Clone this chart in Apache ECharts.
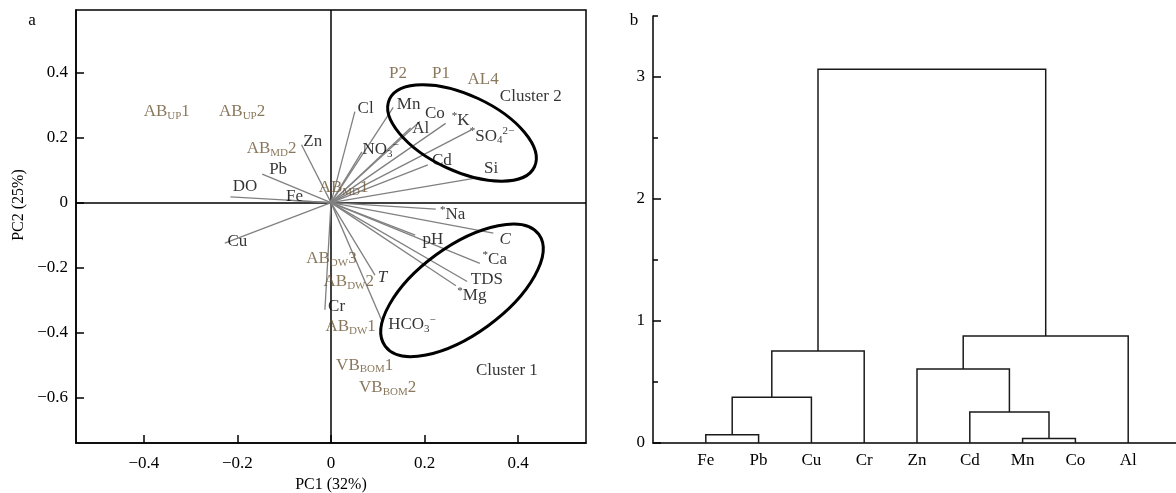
<!DOCTYPE html>
<html><head><meta charset="utf-8">
<script src="https://cdn.jsdelivr.net/npm/echarts@6/dist/echarts.min.js"></script>
<style>html,body{margin:0;padding:0;background:#fff}#c{width:1176px;height:493px}</style>
</head><body><div id="c"></div>
<script>
// ===== Panel a: PCA biplot =====
// loading vectors (tips) for variables
const varNames = ['DO','Pb','Zn','Fe','Cu','Cr','Cl','Mn','Co','Al','K','SO4','NO3','Cd','Si','Na','C','pH','Ca','TDS','Mg','T','HCO3'];
const varPC1 = [-0.215,-0.147,-0.063,-0.095,-0.227,-0.013,0.051,0.133,0.19,0.17,0.245,0.30,0.066,0.207,0.318,0.224,0.347,0.18,0.318,0.291,0.267,0.094,0.111];
const varPC2 = [0.018,0.088,0.178,0.008,-0.125,-0.33,0.28,0.293,0.25,0.23,0.244,0.224,0.156,0.116,0.078,-0.02,-0.094,-0.10,-0.187,-0.243,-0.256,-0.223,-0.371];
// label anchors of the variables
const varLabPC1 = [-0.184,-0.113,-0.039,-0.078,-0.2,0.012,0.074,0.166,0.222,0.192,0.277,0.344,0.106,0.237,0.342,0.26,0.372,0.218,0.35,0.333,0.301,0.11,0.173];
const varLabPC2 = [0.049,0.103,0.188,0.018,-0.12,-0.32,0.29,0.303,0.275,0.227,0.254,0.205,0.162,0.131,0.106,-0.038,-0.113,-0.115,-0.174,-0.236,-0.287,-0.23,-0.376];
const varText = {DO:'DO',Pb:'Pb',Zn:'Zn',Fe:'Fe',Cu:'Cu',Cr:'Cr',Cl:'Cl',Mn:'Mn',Co:'Co',Al:'Al',
  K:'{p|*}K',SO4:'{p|*}SO{s|4}{p|2−}',NO3:'NO{s|3}{p|−}',Cd:'Cd',Si:'Si',Na:'{p|*}Na',C:'{i|C}',pH:'pH',
  Ca:'{p|*}Ca',TDS:'TDS',Mg:'{p|*}Mg',T:'{i|T}',HCO3:'HCO{s|3}{p|−}'};
// sample scores
const sampleNames = ['AB_UP1','AB_UP2','AB_MD2','AB_MD1','P2','P1','AL4','AB_DW3','AB_DW2','AB_DW1','VB_BOM1','VB_BOM2'];
const samplePC1 = [-0.351,-0.19,-0.127,0.027,0.143,0.235,0.325,0.001,0.038,0.042,0.072,0.121];
const samplePC2 = [0.28,0.28,0.167,0.045,0.398,0.398,0.38,-0.171,-0.243,-0.381,-0.5,-0.568];
const sampleText = {AB_UP1:'AB{s|UP}1',AB_UP2:'AB{s|UP}2',AB_MD2:'AB{s|MD}2',AB_MD1:'AB{s|MD}1',P2:'P2',P1:'P1',AL4:'AL4',
  AB_DW3:'AB{s|DW}3',AB_DW2:'AB{s|DW}2',AB_DW1:'AB{s|DW}1',VB_BOM1:'VB{s|BOM}1',VB_BOM2:'VB{s|BOM}2'};
// clusters
const clusterNames = ['Cluster 2','Cluster 1'];
const clusterLabPC1 = [0.427,0.376];
const clusterLabPC2 = [0.328,-0.517];
const clusterCenterPC1 = [0.28,0.28];
const clusterCenterPC2 = [0.2145,-0.27];
const xTicksA = [-0.4,-0.2,0,0.2,0.4];
const yTicksA = [-0.6,-0.4,-0.2,0,0.2,0.4];

// ===== Panel b: dendrogram =====
const leaves = ['Fe','Pb','Cu','Cr','Zn','Cd','Mn','Co','Al'];
const mergeA = [0,6,5,9,4,12,13,14];
const mergeB = [1,7,10,2,11,3,8,15];
const mergeHeight = [0.068,0.036,0.254,0.374,0.607,0.754,0.877,3.063];
const yTicksB = [0,1,2,3];
const yMinorB = [0.5,1.5,2.5,3.5];

// ---- styles ----
const FONT = '"Liberation Serif","Times New Roman",serif';
const BROWN = '#6b5634';
const ellipseStyle = [{rx:80, ry:38, rot:-25}, {rx:95, ry:44, rot:36}];
const rich = {
  s:{fontSize:11, fontFamily:FONT, padding:[9,0,0,0]},
  p:{fontSize:11, fontFamily:FONT, padding:[0,0,9,0]},
  i:{fontSize:17, fontFamily:FONT, fontStyle:'italic'}
};
const fmtNum = v => v === 0 ? '0' : String(v).replace('-', '\u2212');

// dendrogram geometry from the linkage
const nodeX = leaves.map((_, i) => i + 1);
const nodeY = leaves.map(() => 0);
const links = [];
mergeA.forEach((a, k) => {
  const b = mergeB[k], h = mergeHeight[k];
  links.push({coords: [[nodeX[a], nodeY[a]], [nodeX[a], h], [nodeX[b], h], [nodeX[b], nodeY[b]]]});
  nodeX.push((nodeX[a] + nodeX[b]) / 2);
  nodeY.push(h);
});

const chart = echarts.init(document.getElementById('c'), null, {renderer:'canvas'});
const axisLineStyle = {color:'#000', width:1.5};
chart.setOption({
  animation:false,
  backgroundColor:'#fff',
  textStyle:{fontFamily:FONT},
  grid:[
    {left:76, top:10, width:510, height:433, show:true, borderColor:'#000', borderWidth:1.5, backgroundColor:'transparent', containLabel:false, outerBoundsMode:'none'},
    {left:653, top:16, width:528, height:427, containLabel:false, outerBoundsMode:'none'}
  ],
  xAxis:[
    {type:'value', gridIndex:0, min:-0.545, max:0.545, splitLine:{show:false},
     axisLine:{show:true, onZero:false, lineStyle:axisLineStyle},
     axisTick:{show:true, inside:true, length:8, customValues:xTicksA, lineStyle:axisLineStyle},
     axisLabel:{customValues:xTicksA, formatter:fmtNum, fontSize:17, color:'#000', fontFamily:FONT, margin:12},
     name:'PC1 (32%)', nameLocation:'middle', nameGap:33, nameTextStyle:{fontSize:16, color:'#000', fontFamily:FONT}},
    {type:'value', gridIndex:1, min:0, max:10, splitLine:{show:false},
     axisLine:{show:true, onZero:false, lineStyle:axisLineStyle},
     axisTick:{show:false},
     axisLabel:{customValues:leaves.map((_, i) => i + 1), formatter:v => leaves[Math.round(v) - 1] || '', fontSize:17, color:'#000', fontFamily:FONT, margin:9}}
  ],
  yAxis:[
    {type:'value', gridIndex:0, min:-0.74, max:0.593, splitLine:{show:false},
     axisLine:{show:true, onZero:false, lineStyle:axisLineStyle},
     axisTick:{show:true, inside:true, length:8, customValues:yTicksA, lineStyle:axisLineStyle},
     axisLabel:{customValues:yTicksA, formatter:fmtNum, fontSize:17, color:'#000', fontFamily:FONT, margin:8}},
    {type:'value', gridIndex:1, position:'left', min:0, max:3.5, splitLine:{show:false},
     axisLine:{show:true, onZero:false, lineStyle:axisLineStyle},
     axisTick:{show:true, inside:true, length:8, customValues:yTicksB, lineStyle:axisLineStyle},
     axisLabel:{customValues:yTicksB, formatter:v => String(v), fontSize:17, color:'#000', fontFamily:FONT, margin:8}},
    {type:'value', gridIndex:1, position:'left', offset:0, min:0, max:3.5, splitLine:{show:false},
     axisLine:{show:false, onZero:false},
     axisTick:{show:true, inside:true, length:5, customValues:yMinorB, lineStyle:axisLineStyle},
     axisLabel:{show:false}}
  ],
  graphic:[
    {type:'text', x:19, y:205, rotation:Math.PI/2, style:{text:'PC2 (25%)', font:'16px ' + FONT, fill:'#000', align:'center', verticalAlign:'middle'}},
    {type:'text', x:32, y:21, style:{text:'a', font:'17px ' + FONT, fill:'#000', align:'center', verticalAlign:'middle'}},
    {type:'text', x:634, y:21, style:{text:'b', font:'17px ' + FONT, fill:'#000', align:'center', verticalAlign:'middle'}}
  ],
  series:[
    {type:'lines', coordinateSystem:'cartesian2d', xAxisIndex:0, yAxisIndex:0, silent:true, z:2,
     lineStyle:{color:'#808080', width:1.3, opacity:1},
     data:varNames.map((n, i) => ({coords:[[0, 0], [varPC1[i], varPC2[i]]]}))},
    {type:'scatter', xAxisIndex:0, yAxisIndex:0, symbolSize:0, silent:true, z:4,
     data:varNames.map((n, i) => ({name:n, value:[varLabPC1[i], varLabPC2[i]]})),
     label:{show:true, position:'inside', color:'#000', fontSize:17, fontFamily:FONT,
       formatter:p => varText[p.name], rich:rich},
     markLine:{silent:true, symbol:'none', label:{show:false}, z:1,
       lineStyle:{color:'#000', width:1.5, type:'solid'},
       data:[{xAxis:0}, {yAxis:0}]}},
    {type:'scatter', xAxisIndex:0, yAxisIndex:0, symbolSize:0, silent:true, z:4,
     data:sampleNames.map((n, i) => ({name:n, value:[samplePC1[i], samplePC2[i]]})),
     label:{show:true, position:'inside', color:BROWN, fontSize:17, fontFamily:FONT,
       formatter:p => sampleText[p.name], rich:rich}},
    {type:'scatter', xAxisIndex:0, yAxisIndex:0, symbolSize:0, silent:true, z:4,
     data:clusterNames.map((n, i) => ({name:n, value:[clusterLabPC1[i], clusterLabPC2[i]]})),
     label:{show:true, position:'inside', color:'#000', fontSize:17, fontFamily:FONT, formatter:p => p.name}},
    {type:'custom', xAxisIndex:0, yAxisIndex:0, silent:true, z:3,
     data:clusterNames.map((n, i) => [clusterCenterPC1[i], clusterCenterPC2[i]]),
     renderItem:(params, api) => {
       const c = api.coord([api.value(0), api.value(1)]);
       const e = ellipseStyle[params.dataIndex];
       return {type:'ellipse', x:c[0], y:c[1], rotation:e.rot * Math.PI / 180,
         shape:{cx:0, cy:0, rx:e.rx, ry:e.ry},
         style:{fill:'none', stroke:'#000', lineWidth:3}};
     }},
    {type:'lines', coordinateSystem:'cartesian2d', xAxisIndex:1, yAxisIndex:1, polyline:true, silent:true,
     lineStyle:{color:'#1a1a1a', width:1.5, opacity:1},
     data:links}
  ]
});
</script></body></html>
